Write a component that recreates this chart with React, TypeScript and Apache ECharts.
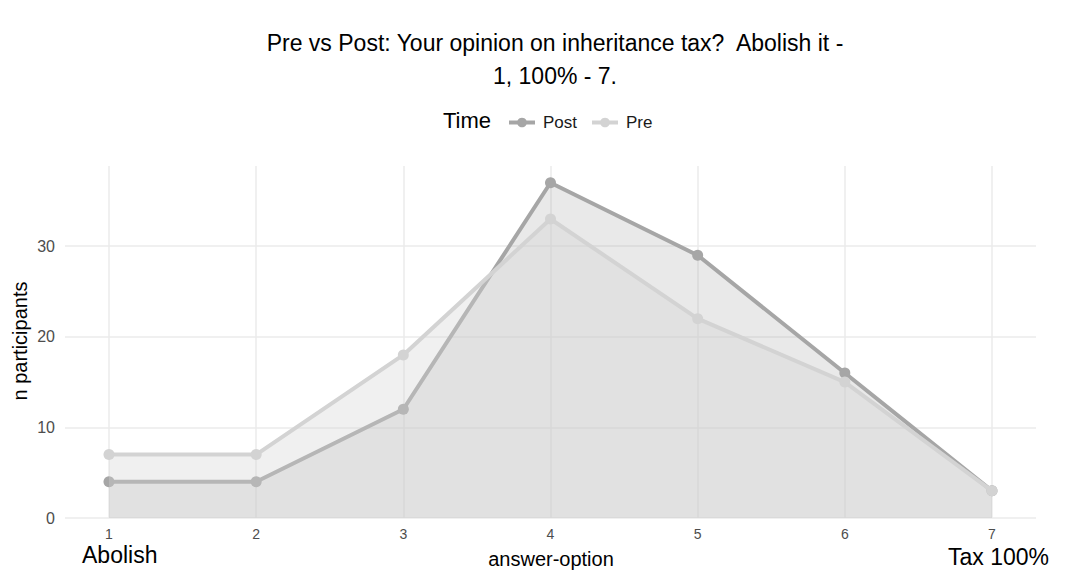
import React, { useEffect, useRef } from "react";
import * as echarts from "echarts";

const answerOptions = [1, 2, 3, 4, 5, 6, 7];
const postValues = [4, 4, 12, 37, 29, 16, 3];
const preValues = [7, 7, 18, 33, 22, 15, 3];
const yTicks = [0, 10, 20, 30];

const FONT = "Liberation Sans, Arial, sans-serif";

export default function App() {
  const ref = useRef<HTMLDivElement>(null);
  useEffect(() => {
    if (!ref.current) return;
    const chart = echarts.init(ref.current, null, { renderer: "svg" });
    const yMax = 38.85;
    const option: any = {
      animation: false,
      backgroundColor: "#ffffff",
      textStyle: { fontFamily: FONT },
      grid: [
        { left: 109, right: 88, top: 166, bottom: 56 },
        { left: 65, right: 44, top: 166, bottom: 56 },
      ],
      xAxis: [
        {
          gridIndex: 0,
          type: "value",
          min: 1,
          max: 7,
          interval: 1,
          axisLine: { show: false },
          axisTick: { show: false },
          axisLabel: { color: "#4d4d4d", fontSize: 14, margin: 9, fontFamily: FONT },
          splitLine: { show: true, lineStyle: { color: "#ebebeb", width: 1.5 } },
        },
        { gridIndex: 1, type: "value", min: 0, max: 1, show: false },
      ],
      yAxis: [
        {
          gridIndex: 0,
          type: "value",
          min: 0,
          max: yMax,
          interval: 10,
          axisLine: { show: false },
          axisTick: { show: false },
          axisLabel: { show: false },
          splitLine: { show: false },
        },
        {
          gridIndex: 1,
          type: "value",
          min: 0,
          max: yMax,
          interval: 10,
          axisLine: { show: false },
          axisTick: { show: false },
          axisLabel: {
            color: "#4d4d4d",
            fontSize: 16,
            margin: 10,
            showMaxLabel: false,
            fontFamily: FONT,
            formatter: (v: number) => (yTicks.includes(v) ? String(v) : ""),
          },
          splitLine: { show: true, showMaxLine: false, lineStyle: { color: "#ebebeb", width: 1.5 } },
        },
      ],
      legend: {
        data: ["Post", "Pre"],
        left: 502,
        top: 109,
        itemWidth: 26,
        itemHeight: 12,
        itemGap: 13,
        lineStyle: { width: 4 },
        textStyle: { fontSize: 17, color: "#1a1a1a", fontFamily: FONT, padding: [0, 0, 0, 3] },
      },
      graphic: [
        {
          type: "text",
          style: {
            text: "Pre vs Post: Your opinion on inheritance tax?  Abolish it -\n1, 100% - 7.",
            x: 555,
            y: 26,
            align: "center",
            fontSize: 23,
            lineHeight: 33,
            fill: "#000000",
            fontFamily: FONT,
          },
        },
        {
          type: "text",
          style: {
            text: "Time",
            x: 443,
            y: 120,
            verticalAlign: "middle",
            fontSize: 22,
            fill: "#000000",
            fontFamily: FONT,
          },
        },
        {
          type: "text",
          style: {
            text: "answer-option",
            x: 551,
            y: 559,
            align: "center",
            verticalAlign: "middle",
            fontSize: 20,
            fill: "#000000",
            fontFamily: FONT,
          },
        },
        {
          type: "text",
          rotation: Math.PI / 2,
          x: 20,
          y: 341,
          style: {
            text: "n participants",
            x: 0,
            y: 0,
            align: "center",
            verticalAlign: "middle",
            fontSize: 20,
            fill: "#000000",
            fontFamily: FONT,
          },
        },
        {
          type: "text",
          style: {
            text: "Abolish",
            x: 82,
            y: 555,
            verticalAlign: "middle",
            fontSize: 23,
            fill: "#000000",
            fontFamily: FONT,
          },
        },
        {
          type: "text",
          style: {
            text: "Tax 100%",
            x: 948,
            y: 557,
            verticalAlign: "middle",
            fontSize: 23,
            fill: "#000000",
            fontFamily: FONT,
          },
        },
      ],
      series: [
        {
          name: "Post",
          type: "line",
          xAxisIndex: 0,
          yAxisIndex: 0,
          data: answerOptions.map((x, i) => [x, postValues[i]]),
          symbol: "circle",
          symbolSize: 11,
          color: "#a6a6a6",
          lineStyle: { color: "#a6a6a6", width: 4 },
          itemStyle: { color: "#a6a6a6" },
          areaStyle: { color: "#a3a3a3", opacity: 0.24 },
          z: 2,
        },
        {
          name: "Pre",
          type: "line",
          xAxisIndex: 0,
          yAxisIndex: 0,
          data: answerOptions.map((x, i) => [x, preValues[i]]),
          symbol: "circle",
          symbolSize: 11,
          color: "#d3d3d3",
          lineStyle: { color: "#d3d3d3", width: 4 },
          itemStyle: { color: "#d3d3d3" },
          areaStyle: { color: "#d3d3d3", opacity: 0.35 },
          z: 3,
        },
      ],
    };
    chart.setOption(option);
    return () => chart.dispose();
  }, []);
  return <div ref={ref} style={{ width: 1080, height: 574, position: "absolute", left: 0, top: 0 }} />;
}
